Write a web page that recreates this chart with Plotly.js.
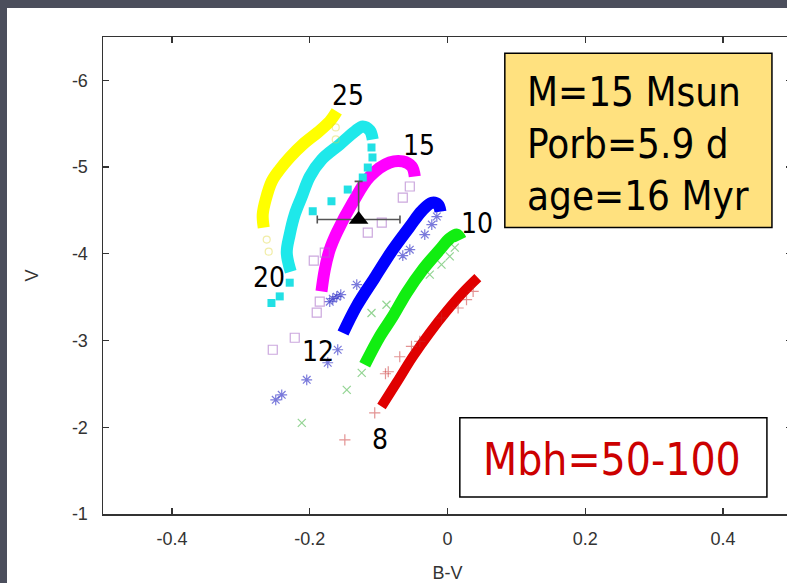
<!DOCTYPE html>
<html>
<head>
<meta charset="utf-8">
<script src="https://cdn.plot.ly/plotly-3.0.1.min.js"></script>
<style>
  html, body { margin: 0; padding: 0; width: 787px; height: 583px; overflow: hidden; background: #4b4e5c; }
  #chart { position: absolute; left: 7px; top: 8px; width: 800px; height: 575px; }
</style>
</head>
<body>
<div id="chart"></div>
<script>
// ---- Data (B-V, V) ----
const massLabels = ["8", "10", "12", "15", "20", "25"];

// dense track bands
const red8BandX   = [-0.0958, -0.0740, -0.0504, -0.0257, -0.0015, 0.0222, 0.0440];
const red8BandY   = [-2.239, -2.513, -2.813, -3.090, -3.336, -3.552, -3.725];
const green10BandX = [-0.1201, -0.0983, -0.0794, -0.0595, -0.0359, -0.0112, 0.0033, 0.0135, 0.0193];
const green10BandY = [-2.721, -3.047, -3.278, -3.549, -3.818, -4.048, -4.176, -4.222, -4.164];
const blue12BandX = [-0.1516, -0.1321, -0.1056, -0.0794, -0.0547, -0.0377, -0.0232, -0.0136, -0.0102];
const blue12BandY = [-3.087, -3.394, -3.725, -4.048, -4.314, -4.491, -4.588, -4.568, -4.487];
const mag15BandX  = [-0.1829, -0.1781, -0.1709, -0.1607, -0.1375, -0.1128, -0.0838, -0.0649, -0.0518, -0.0475];
const mag15BandY  = [-3.567, -3.818, -4.048, -4.245, -4.591, -4.891, -5.053, -5.065, -5.007, -4.891];
const cyan20BandX = [-0.2275, -0.2333, -0.2290, -0.2217, -0.2115, -0.1999, -0.1825, -0.1564, -0.1346, -0.1230, -0.1128, -0.1085];
const cyan20BandY = [-3.794, -4.014, -4.222, -4.453, -4.661, -4.891, -5.088, -5.261, -5.411, -5.469, -5.423, -5.319];
const yel25BandX  = [-0.2667, -0.2682, -0.2638, -0.2551, -0.2435, -0.2290, -0.2101, -0.1883, -0.1709, -0.1607];
const yel25BandY  = [-4.303, -4.453, -4.627, -4.834, -4.972, -5.111, -5.261, -5.400, -5.527, -5.642];

// sparse points
const red8PtsX = [-0.149, -0.1056, -0.090, -0.086, -0.0693, -0.0523, -0.0402, -0.0087, 0.0154, 0.0276, 0.0372];
const red8PtsY = [-1.855, -2.166, -2.617, -2.640, -2.813, -2.932, -2.990, -3.260, -3.375, -3.471, -3.567];
const green10PtsX = [-0.1245, -0.1462, -0.2115, -0.1103, -0.0886, -0.0257, -0.0087, 0.0033, 0.0106];
const green10PtsY = [-2.628, -2.432, -2.051, -3.318, -3.413, -3.760, -3.875, -3.971, -4.072];
const blue12PtsX = [-0.0155, -0.0228, -0.0330, -0.0547, -0.0649, -0.1317, -0.1607, -0.1709, -0.1665, -0.1549, -0.1593, -0.1738, -0.2043, -0.2406, -0.2493];
const blue12PtsY = [-4.430, -4.337, -4.222, -4.048, -3.979, -3.644, -3.506, -3.448, -3.483, -3.529, -2.894, -2.744, -2.547, -2.374, -2.316];
const mag15PtsX = [-0.0547, -0.0649, -0.0954, -0.1157, -0.1781, -0.1941, -0.1854, -0.1898, -0.2217, -0.2536];
const mag15PtsY = [-4.776, -4.649, -4.360, -4.245, -4.014, -3.921, -3.448, -3.321, -3.032, -2.894];
const cyan20PtsX = [-0.1103, -0.1089, -0.1157, -0.1230, -0.1448, -0.1684, -0.1956, -0.2290, -0.2435, -0.2555];
const cyan20PtsY = [-5.226, -5.111, -4.995, -4.880, -4.741, -4.606, -4.491, -3.667, -3.509, -3.433];
const yel25PtsX = [-0.2624, -0.2595, -0.1622, -0.1622];
const yel25PtsY = [-4.164, -4.025, -5.457, -5.319];

// observed star with error bars
const obsX = [-0.129];
const obsY = [-4.395];
const obsErrX = [0.06];
const obsErrYUp = [0.44];

// label positions for mass tracks
const labelX = [-0.0983, 0.0425, -0.1883, -0.0417, -0.2595, -0.1448];
const labelY = [-1.855, -4.349, -2.871, -5.249, -3.725, -5.827];

const tickValsX = [-0.4, -0.2, 0, 0.2, 0.4];
const tickTextX = ["-0.4", "-0.2", "0", "0.2", "0.4"];
const tickValsY = [-6, -5, -4, -3, -2, -1];
const tickTextY = ["-6", "-5", "-4", "-3", "-2", "-1"];

const infoLines = ["M=15 Msun", "Porb=5.9 d", "age=16 Myr"];
const bhText = "Mbh=50-100";

// ---- Traces ----
function band(x, y, color, w) {
  return { x: x, y: y, type: 'scatter', mode: 'lines', hoverinfo: 'skip',
           line: { color: color, width: w, shape: 'spline', smoothing: 1 } };
}
function pts(x, y, symbol, color, size, lw) {
  return { x: x, y: y, type: 'scatter', mode: 'markers', hoverinfo: 'skip',
           marker: { symbol: symbol, size: size, color: color, line: { color: color, width: lw } } };
}

const traces = [
  band(yel25BandX, yel25BandY, '#ffff00', 12),
  band(cyan20BandX, cyan20BandY, '#1ee8ea', 12),
  band(mag15BandX, mag15BandY, '#ff00ff', 12),
  band(blue12BandX, blue12BandY, '#0000ff', 12),
  band(green10BandX, green10BandY, '#11ee11', 12),
  band(red8BandX, red8BandY, '#e00000', 10),
  pts(red8PtsX, red8PtsY, 'cross-thin-open', 'rgba(200,40,40,0.5)', 8, 1.2),
  pts(green10PtsX, green10PtsY, 'x-thin-open', 'rgba(40,170,40,0.5)', 8, 1.2),
  pts(blue12PtsX, blue12PtsY, 'asterisk-open', 'rgba(50,50,200,0.65)', 9, 1.2),
  pts(mag15PtsX, mag15PtsY, 'square-open', 'rgba(170,110,200,0.6)', 9, 1.2),
  pts(cyan20PtsX, cyan20PtsY, 'square', '#22e0e4', 8, 0),
  pts(yel25PtsX, yel25PtsY, 'circle-open', 'rgba(225,215,60,0.45)', 7, 1.2),
  { x: obsX, y: obsY, type: 'scatter', mode: 'markers', hoverinfo: 'skip',
    marker: { symbol: 'triangle-up', size: 17, color: '#000000' },
    error_x: { type: 'data', array: obsErrX, color: '#555555', thickness: 1.6, width: 4 },
    error_y: { type: 'data', symmetric: false, array: [0], arrayminus: obsErrYUp, color: '#555555', thickness: 1.6, width: 4 } }
];

// ---- Annotations ----
const annotations = massLabels.map((t, i) => ({
  x: labelX[i], y: labelY[i], xref: 'x', yref: 'y', text: t, showarrow: false,
  xanchor: 'center', yanchor: 'middle',
  font: { family: 'DejaVu Sans Condensed, DejaVu Sans, sans-serif', size: 28, color: '#000000' }
}));
annotations.push({
  x: 0.1122, y: -5.272, xref: 'x', yref: 'y', text: infoLines.join('<br>'), showarrow: false,
  xanchor: 'left', yanchor: 'middle', align: 'left',
  font: { family: 'DejaVu Sans Condensed, DejaVu Sans, sans-serif', size: 40, color: '#000000' }
});
annotations.push({
  x: 0.0484, y: -1.629, xref: 'x', yref: 'y', text: bhText, showarrow: false,
  xanchor: 'left', yanchor: 'middle',
  font: { family: 'DejaVu Sans Condensed, DejaVu Sans, sans-serif', size: 44, color: '#cc0000' }
});

const shapes = [
  { type: 'rect', xref: 'x', yref: 'y', x0: 0.0832, x1: 0.4709, y0: -4.303, y1: -6.312,
    fillcolor: '#ffe17f', line: { color: '#000000', width: 1.5 }, layer: 'above' },
  { type: 'rect', xref: 'x', yref: 'y', x0: 0.0179, x1: 0.4636, y0: -1.196, y1: -2.109,
    fillcolor: '#ffffff', line: { color: '#000000', width: 1.5 }, layer: 'above' }
];

const axisFont = { family: 'Liberation Sans, Arial, sans-serif', size: 18, color: '#333333' };

const layout = {
  width: 800, height: 575,
  margin: { l: 96, r: 15, t: 29, b: 69 },
  paper_bgcolor: '#ffffff', plot_bgcolor: '#ffffff',
  showlegend: false,
  xaxis: {
    range: [-0.5, 0.5], tickvals: tickValsX, ticktext: tickTextX,
    ticks: 'inside', ticklen: 6, tickwidth: 1.3, tickcolor: '#333333',
    showline: true, linecolor: '#333333', linewidth: 1.5, mirror: 'ticks',
    showgrid: false, zeroline: false, tickfont: axisFont, ticklabelstandoff: 8,
    title: { text: 'B-V', font: axisFont, standoff: 20 }
  },
  yaxis: {
    range: [-1, -6.5], tickvals: tickValsY, ticktext: tickTextY,
    ticks: 'inside', ticklen: 6, tickwidth: 1.3, tickcolor: '#333333',
    showline: true, linecolor: '#333333', linewidth: 1.5, mirror: 'ticks',
    showgrid: false, zeroline: false, tickfont: axisFont, ticklabelstandoff: 10,
    title: { text: 'V', font: axisFont, standoff: 28 }
  },
  annotations: annotations,
  shapes: shapes
};

Plotly.newPlot('chart', traces, layout, { displayModeBar: false, staticPlot: true });
</script>
</body>
</html>
